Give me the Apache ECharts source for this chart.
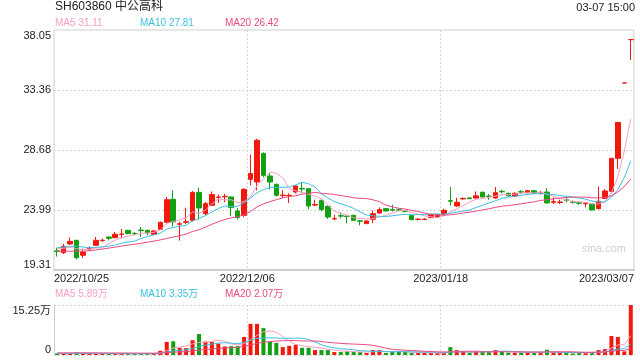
<!DOCTYPE html>
<html><head><meta charset="utf-8">
<script src="https://cdn.jsdelivr.net/npm/echarts@6/dist/echarts.min.js"></script>
<style>html,body{margin:0;padding:0;background:#fff}#c{width:640px;height:360px}</style>
</head><body><div id="c"></div>
<script>
const dates = ['2022/10/25','2022/10/26','2022/10/27','2022/10/28','2022/10/31',
'2022/11/01','2022/11/02','2022/11/03','2022/11/04',
'2022/11/07','2022/11/08','2022/11/09','2022/11/10','2022/11/11',
'2022/11/14','2022/11/15','2022/11/16','2022/11/17','2022/11/18',
'2022/11/21','2022/11/22','2022/11/23','2022/11/24','2022/11/25',
'2022/11/28','2022/11/29','2022/11/30',
'2022/12/01','2022/12/02','2022/12/05','2022/12/06',
'2022/12/07','2022/12/08','2022/12/09',
'2022/12/12','2022/12/13','2022/12/14','2022/12/15','2022/12/16',
'2022/12/19','2022/12/20','2022/12/21','2022/12/22','2022/12/23',
'2022/12/26','2022/12/27','2022/12/28','2022/12/29','2022/12/30',
'2023/01/03','2023/01/04','2023/01/05','2023/01/06',
'2023/01/09','2023/01/10','2023/01/11','2023/01/12','2023/01/13',
'2023/01/16','2023/01/17','2023/01/18','2023/01/19','2023/01/20',
'2023/01/30','2023/01/31',
'2023/02/01','2023/02/02','2023/02/03',
'2023/02/06','2023/02/07','2023/02/08','2023/02/09','2023/02/10',
'2023/02/13','2023/02/14','2023/02/15','2023/02/16','2023/02/17',
'2023/02/20','2023/02/21','2023/02/22','2023/02/23','2023/02/24',
'2023/02/27','2023/02/28',
'2023/03/01','2023/03/02','2023/03/03','2023/03/06','2023/03/07'];

// [open, close, low, high]
const ohlc = [
[20.80,20.76,20.36,21.05],[20.66,21.16,20.55,21.35],[21.34,21.55,21.28,21.85],[21.63,20.27,20.12,21.66],[20.46,20.71,20.25,20.98],
[20.96,21.02,20.80,21.15],[21.24,21.63,21.20,21.89],[21.60,21.64,21.52,21.75],[21.89,21.78,21.62,21.93],[21.83,22.10,21.80,22.28],
[22.08,22.12,21.76,22.51],[22.41,22.15,22.10,22.44],[22.17,22.14,22.02,22.27],[22.43,22.40,21.90,22.66],[22.41,22.20,22.02,22.46],
[22.10,22.36,22.05,22.40],[22.49,23.03,22.45,23.10],[23.03,24.80,23.00,25.00],[24.83,23.06,22.72,25.53],[22.88,22.92,21.60,23.05],
[23.04,23.08,22.90,24.18],[23.19,25.37,23.10,25.47],[25.37,24.15,23.24,25.74],[23.71,24.49,23.60,24.62],[24.36,25.20,24.30,25.45],
[24.98,25.01,24.55,25.20],[25.03,25.06,24.60,25.25],[25.01,24.18,23.50,25.05],[23.92,23.40,23.25,24.15],[23.58,25.61,23.45,25.70],
[26.39,26.84,25.92,28.32],[26.18,29.44,25.53,29.55],[28.40,26.70,26.55,28.50],[26.65,26.18,25.60,26.85],[26.00,25.14,25.05,26.05],
[25.12,25.16,24.95,25.55],[25.12,25.14,24.55,25.30],[25.40,25.87,25.30,25.92],[25.68,25.64,25.30,26.15],[25.66,24.31,24.05,25.70],
[24.38,24.42,24.30,24.80],[24.75,24.03,23.90,24.80],[24.28,23.45,23.30,24.35],[23.30,23.32,23.20,23.60],[23.55,23.52,23.35,23.80],
[23.52,23.49,22.95,23.62],[23.58,23.19,23.15,23.62],[23.15,23.12,22.80,23.22],[22.93,23.14,22.90,23.16],[23.27,23.71,22.98,23.95],
[23.76,24.03,23.70,24.20],[24.10,23.92,23.88,24.14],[24.02,23.98,23.88,24.40],[24.02,23.99,23.90,24.10],[23.92,23.89,23.80,24.00],
[23.58,23.24,23.20,23.62],[23.25,23.28,23.18,23.36],[23.25,23.28,23.20,23.35],[23.40,23.60,23.35,23.70],[23.45,23.61,23.40,23.70],
[23.66,23.97,23.55,24.10],[24.72,24.68,24.35,25.79],[24.31,24.60,24.25,24.95],[24.86,24.90,24.80,24.98],[24.94,24.88,24.85,24.98],
[24.93,25.10,24.90,25.45],[25.38,25.01,24.98,25.42],[25.08,25.05,24.80,25.25],[24.93,25.35,24.88,25.79],[25.45,25.42,25.30,25.58],
[25.30,25.10,25.05,25.35],[25.08,25.30,25.00,25.38],[25.42,25.40,25.25,25.55],[25.35,25.50,25.30,25.56],[25.50,25.32,25.28,25.56],
[25.30,25.38,25.20,25.46],[25.40,24.55,24.50,25.70],[24.60,24.65,24.45,24.98],[24.58,24.62,24.45,24.80],[24.80,24.76,24.60,25.00],
[24.62,24.60,24.50,24.75],[24.56,24.52,24.40,24.68],[24.48,24.52,24.20,24.58],[24.45,24.00,23.95,24.50],[24.10,24.68,24.05,25.82],
[24.90,25.48,24.85,25.62],[25.45,28.03,25.30,28.03],[28.03,30.83,27.20,30.88],[33.91,33.91,33.91,33.91],[37.30,37.30,35.71,37.30]];

const ma5 = [20.95,21.00,21.08,20.98,20.89,20.94,21.04,21.05,21.36,21.63,
21.85,21.96,22.06,22.18,22.20,22.25,22.43,22.96,23.09,23.23,
23.38,23.85,23.72,24.00,24.46,24.84,24.78,24.79,24.57,24.65,
25.02,25.89,26.40,26.95,26.86,26.52,25.66,25.50,25.39,25.22,
25.08,24.85,24.37,23.91,23.75,23.56,23.39,23.33,23.29,23.33,
23.44,23.58,23.76,23.93,23.97,23.81,23.68,23.54,23.46,23.40,
23.55,23.83,24.09,24.35,24.61,24.83,24.90,24.99,25.08,25.19,
25.19,25.24,25.31,25.34,25.32,25.38,25.23,25.08,24.90,24.79,
24.64,24.63,24.60,24.48,24.46,24.64,25.34,26.60,28.59,31.11];
const ma10 = [21.05,21.10,21.16,21.18,21.10,21.05,21.08,21.12,21.18,21.26,
21.40,21.50,21.56,21.77,21.92,22.05,22.19,22.51,22.64,22.72,
22.81,23.14,23.34,23.55,23.85,24.11,24.31,24.25,24.29,24.56,
24.93,25.34,25.59,25.76,25.76,25.77,25.78,25.95,26.17,26.04,
25.80,25.26,24.93,24.65,24.49,24.32,24.12,23.85,23.60,23.54,
23.50,23.49,23.54,23.61,23.65,23.62,23.63,23.65,23.69,23.68,
23.68,23.75,23.82,23.91,24.00,24.19,24.36,24.54,24.72,24.90,
25.01,25.07,25.15,25.21,25.26,25.28,25.24,25.20,25.12,25.06,
25.01,24.93,24.84,24.69,24.63,24.64,24.99,25.60,26.53,27.81];
const ma20 = [20.77,20.77,20.78,20.78,20.78,20.82,20.88,20.95,21.02,21.10,
21.18,21.25,21.32,21.40,21.48,21.56,21.66,21.78,21.88,21.99,
22.11,22.32,22.45,22.66,22.88,23.08,23.25,23.38,23.46,23.64,
23.87,24.24,24.47,24.65,24.80,24.94,25.05,25.10,25.23,25.30,
25.37,25.30,25.26,25.21,25.12,25.05,24.95,24.90,24.89,24.79,
24.65,24.37,24.24,24.13,24.07,23.97,23.88,23.75,23.65,23.61,
23.59,23.62,23.68,23.76,23.83,23.91,24.00,24.09,24.20,24.29,
24.34,24.41,24.48,24.56,24.63,24.74,24.80,24.87,24.92,24.98,
25.01,25.00,25.00,24.95,24.94,24.96,25.11,25.40,25.83,26.42];

// volume in 万
const volumes = [0.5,0.4,0.5,0.8,0.4,0.4,0.5,0.3,0.4,0.4,
0.4,0.4,0.3,0.4,0.4,0.6,1.3,4.0,4.2,2.2,
2.1,4.5,6.4,4.1,4.0,3.5,2.6,2.7,2.7,5.5,
9.5,9.5,8.2,4.0,3.7,2.4,2.8,3.1,2.2,2.2,
1.5,1.5,1.5,0.9,0.9,1.1,0.9,0.9,0.6,1.5,
1.5,0.6,1.0,1.0,1.0,0.6,0.6,0.6,0.6,0.6,
0.6,2.4,1.5,1.0,0.6,1.0,1.0,1.0,1.5,1.0,
0.7,0.7,0.7,0.7,0.7,0.7,1.6,0.8,0.7,0.6,
0.45,0.7,0.7,0.7,1.5,1.8,5.8,5.5,1.1,15.25];
const vma5 = [0.50,0.50,0.50,0.50,0.52,0.50,0.52,0.48,0.40,0.40,
0.40,0.38,0.38,0.38,0.38,0.42,0.60,1.34,2.10,2.46,
2.76,3.40,3.88,3.86,4.22,4.50,4.12,3.38,3.10,3.40,
4.60,5.98,7.08,7.34,6.98,5.56,4.22,3.20,2.84,2.54,
2.36,2.10,1.78,1.52,1.26,1.18,1.06,0.94,0.88,1.00,
1.08,1.02,1.04,1.12,1.02,0.84,0.84,0.76,0.68,0.60,
0.60,0.96,1.14,1.22,1.22,1.30,1.02,0.92,1.02,1.10,
1.04,0.98,0.92,0.76,0.70,0.70,0.88,0.90,0.90,0.88,
0.83,0.65,0.63,0.63,0.81,1.08,2.10,3.06,3.14,5.89];
const vma10 = [0.50,0.50,0.50,0.50,0.50,0.49,0.48,0.47,0.46,0.46,
0.45,0.45,0.43,0.39,0.39,0.41,0.49,0.86,1.24,1.42,
1.59,2.00,2.61,2.98,3.34,3.63,3.76,3.63,3.48,3.81,
4.55,5.05,5.23,5.22,5.19,5.08,5.10,5.14,5.09,4.76,
3.96,3.16,2.49,2.18,1.90,1.77,1.58,1.36,1.20,1.13,
1.13,1.04,0.99,1.00,1.01,0.96,0.93,0.90,0.90,0.81,
0.72,0.90,0.95,0.95,0.91,0.95,0.99,1.03,1.12,1.16,
1.17,1.00,0.92,0.89,0.90,0.87,0.93,0.91,0.83,0.79,
0.77,0.77,0.77,0.77,0.85,0.96,1.38,1.85,1.89,3.35];
const vma20 = [0.65,0.65,0.65,0.66,0.66,0.66,0.65,0.65,0.64,0.63,
0.62,0.61,0.60,0.59,0.58,0.58,0.62,0.74,0.86,0.94,
1.02,1.23,1.52,1.69,1.87,2.02,2.13,2.25,2.36,2.62,
3.07,3.53,3.92,4.10,4.27,4.36,4.43,4.39,4.29,4.29,
4.26,4.11,3.86,3.70,3.55,3.43,3.34,3.25,3.15,2.95,
2.55,2.10,1.74,1.59,1.46,1.37,1.26,1.13,1.05,0.97,
0.93,0.97,0.97,0.98,0.96,0.96,0.96,0.97,1.01,0.99,
0.95,0.95,0.94,0.92,0.91,0.91,0.96,0.97,0.98,0.98,
0.97,0.88,0.84,0.83,0.87,0.91,1.15,1.38,1.36,2.07];

const priceTicks = [19.31, 23.99, 28.68, 33.36, 38.05];
const volTicks = [0, 15.25];
const dateTicks = ['2022/10/25', '2022/12/06', '2023/01/18', '2023/03/07'];
const stockTitle = 'SH603860 中公高科';
const timeText = '03-07 15:00';

const UP = '#f2180c', DOWN = '#12a012';
const C5 = '#f99fc0', C10 = '#3cc0e4', C20 = '#ea4a80';
const FONT = 'Arial, "Liberation Sans", "Noto Sans CJK SC", sans-serif';
const DOT = '#d6d6d6';
const BORDER = '#cfcfcf';

function isUp(i) {
  const o = ohlc[i][0], c = ohlc[i][1];
  if (c > o) return true;
  if (c < o) return false;
  return i > 0 ? c >= ohlc[i - 1][1] : true;
}
const last = a => a[a.length - 1];

const chart = echarts.init(document.getElementById('c'), null, {renderer: 'canvas'});
const txt = (text, left, top, size, color, extra) => Object.assign({
  text, left, top, padding: 0,
  textStyle: {fontSize: size, fontWeight: 'normal', color, fontFamily: FONT}
}, extra || {});

chart.setOption({
  animation: false,
  backgroundColor: '#fff',
  title: [
    txt(stockTitle, 55, 1, 12, '#222'),
    Object.assign(txt(timeText, null, 2, 11, '#222'), {right: 5, left: undefined}),
    txt('MA5 ' + last(ma5).toFixed(2), 55, 18.5, 10, C5),
    txt('MA10 ' + last(ma10).toFixed(2), 140, 18.5, 10, C10),
    txt('MA20 ' + last(ma20).toFixed(2), 225, 18.5, 10, C20),
    txt('MA5 ' + last(vma5).toFixed(2) + '万', 55, 289.5, 10, C5),
    txt('MA10 ' + last(vma10).toFixed(2) + '万', 140, 289.5, 10, C10),
    txt('MA20 ' + last(vma20).toFixed(2) + '万', 225, 289.5, 10, C20),
    txt('sina.com', 582, 243, 11, '#cfcfcf')
  ],
  grid: [
    {left: 54, right: 6, top: 30, height: 240, show: true, borderColor: BORDER, borderWidth: 1, backgroundColor: 'transparent'},
    {left: 54, right: 6, top: 305, height: 50}
  ],
  xAxis: [
    {type: 'category', gridIndex: 0, data: dates, boundaryGap: true,
     axisLine: {show: false}, axisTick: {show: false}, axisLabel: {show: false}, splitLine: {show: false}},
    {type: 'category', gridIndex: 1, data: dates, boundaryGap: true,
     axisLine: {show: false}, axisTick: {show: false}, axisLabel: {show: false}, splitLine: {show: false}},
    {type: 'value', gridIndex: 0, position: 'bottom', min: 0, max: 90, interval: 30,
     axisLine: {show: true, lineStyle: {color: BORDER, width: 2}},
     axisTick: {show: false, customValues: [30, 60]},
     axisLabel: {show: true, customValues: [0, 30, 60, 90], margin: 3,
       formatter: v => dateTicks[Math.round(v / 30)],
       color: '#222', fontSize: 11, fontFamily: FONT,
       alignMinLabel: 'left', alignMaxLabel: 'right'},
     splitLine: {show: true, lineStyle: {color: DOT, type: [2, 2], width: 1}}},
    {type: 'value', gridIndex: 1, position: 'bottom', min: 0, max: 90, interval: 30,
     axisLine: {show: false}, axisTick: {show: false, customValues: [30, 60]},
     axisLabel: {show: false},
     splitLine: {show: true, lineStyle: {color: DOT, type: [2, 2], width: 1}}}
  ],
  yAxis: [
    {type: 'value', gridIndex: 0, min: priceTicks[0], max: last(priceTicks), scale: true,
     axisLine: {show: false}, axisTick: {show: false, customValues: priceTicks.slice(1, -1)},
     axisLabel: {customValues: priceTicks, margin: 3, color: '#222', fontSize: 11, fontFamily: FONT,
       formatter: v => v.toFixed(2), verticalAlignMinLabel: 'bottom', verticalAlignMaxLabel: 'top'},
     splitLine: {show: true, lineStyle: {color: DOT, type: [2, 2], width: 1}}},
    {type: 'value', gridIndex: 1, min: volTicks[0], max: last(volTicks),
     axisLine: {show: true, lineStyle: {color: BORDER, width: 1}}, axisTick: {show: false, customValues: volTicks},
     axisLabel: {customValues: volTicks, margin: 3, color: '#222', fontSize: 11, fontFamily: FONT,
       formatter: v => v === 0 ? '0' : v.toFixed(2) + '万', verticalAlignMinLabel: 'bottom', verticalAlignMaxLabel: 'top'},
     splitLine: {show: true, lineStyle: {color: DOT, type: [2, 2], width: 1}}}
  ],
  series: [
    {type: 'candlestick', xAxisIndex: 0, yAxisIndex: 0, data: ohlc, barWidth: 5,
     itemStyle: {color: UP, color0: DOWN, borderColor: UP, borderColor0: DOWN, borderWidth: 1}},
    {type: 'line', xAxisIndex: 0, yAxisIndex: 0, data: ma5, symbol: 'none', lineStyle: {color: C5, width: 1}},
    {type: 'line', xAxisIndex: 0, yAxisIndex: 0, data: ma10, symbol: 'none', lineStyle: {color: C10, width: 1}},
    {type: 'line', xAxisIndex: 0, yAxisIndex: 0, data: ma20, symbol: 'none', lineStyle: {color: C20, width: 1}},
    {type: 'bar', xAxisIndex: 1, yAxisIndex: 1, barWidth: 4,
     data: volumes.map((v, i) => ({value: v, itemStyle: {color: isUp(i) ? UP : DOWN}}))},
    {type: 'line', xAxisIndex: 1, yAxisIndex: 1, data: vma5, symbol: 'none', lineStyle: {color: C5, width: 1}},
    {type: 'line', xAxisIndex: 1, yAxisIndex: 1, data: vma10, symbol: 'none', lineStyle: {color: C10, width: 1}},
    {type: 'line', xAxisIndex: 1, yAxisIndex: 1, data: vma20, symbol: 'none', lineStyle: {color: C20, width: 1}}
  ]
});
</script></body></html>
